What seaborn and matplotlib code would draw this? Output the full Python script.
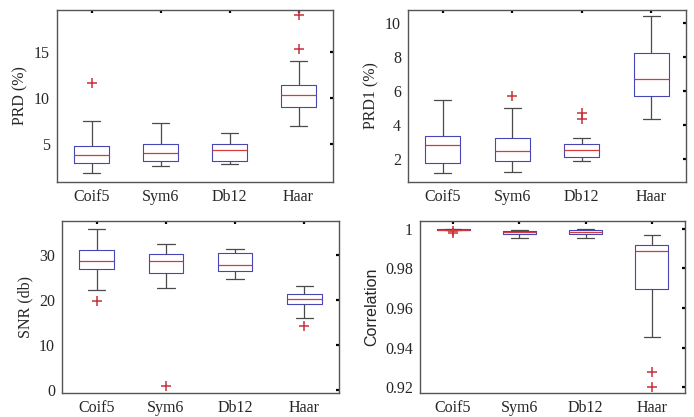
import numpy as np
import pandas as pd
import matplotlib
matplotlib.use("Agg")
import matplotlib.pyplot as plt
import seaborn as sns

wavelets = ["Coif5", "Sym6", "Db12", "Haar"]

# Five-number summaries per wavelet: lower whisker, Q1, median, Q3, upper whisker
prd_stats = [
    [1.75, 2.92, 3.80, 4.78, 7.48],
    [2.59, 3.14, 4.01, 5.00, 7.30],
    [2.81, 3.07, 4.27, 5.00, 6.17],
    [6.97, 9.05, 10.26, 11.35, 13.98],
]
prd_outliers = [[11.6], [], [], [15.3, 19.1]]

prd1_stats = [
    [1.13, 1.74, 2.80, 3.31, 5.47],
    [1.21, 1.85, 2.42, 3.21, 4.96],
    [1.85, 2.09, 2.50, 2.86, 3.21],
    [4.35, 5.67, 6.69, 8.26, 10.40],
]
prd1_outliers = [[], [5.71], [4.35, 4.68], []]

snr_stats = [
    [22.14, 26.85, 28.70, 31.05, 35.77],
    [22.73, 26.04, 28.55, 30.17, 32.38],
    [24.57, 26.34, 27.81, 30.46, 31.35],
    [16.02, 18.97, 20.15, 21.18, 23.17],
]
snr_outliers = [[19.7], [0.9], [], [14.2]]

corr_stats = [
    [0.9992, 0.9995, 0.9996, 0.9998, 0.99995],
    [0.9955, 0.9973, 0.9982, 0.9990, 0.9993],
    [0.9955, 0.9975, 0.9985, 0.9995, 0.9998],
    [0.9454, 0.9696, 0.9887, 0.9921, 0.9970],
]
corr_outliers = [[0.9988, 0.9980], [], [], [0.9200, 0.9276]]


def expand(stats, outliers):
    """Build a sample whose quartiles, whisker ends and outliers equal the summary."""
    lo, q1, med, q3, hi = stats
    low_out = sorted(v for v in outliers if v < q1)
    high_out = sorted(v for v in outliers if v > q3)
    m = max(len(low_out), len(high_out)) + 2
    n = 4 * m + 1
    vals = [None] * n
    for i, v in enumerate(low_out):
        vals[i] = v
    vals[len(low_out)] = lo
    for i in range(len(low_out) + 1, m + 1):
        vals[i] = q1
    for i in range(m + 1, 2 * m + 1):
        vals[i] = med
    for i in range(2 * m + 1, n - len(high_out) - 1):
        vals[i] = q3
    vals[n - len(high_out) - 1] = hi
    for i, v in enumerate(high_out):
        vals[n - len(high_out) + i] = v
    return vals


def frame(stats_list, outlier_list):
    rows = []
    for name, st, out in zip(wavelets, stats_list, outlier_list):
        for v in expand(st, out):
            rows.append((name, v))
    return pd.DataFrame(rows, columns=["wavelet", "value"])


BOX_BLUE = "#4646b4"
MED_RED = "#d23c3c"
WHISK = "#4a4a4a"
OUT_RED = "#c8323a"
SERIF = "Liberation Serif"
SANS = "Liberation Sans"

sns.set_style("white")
plt.rcParams["font.family"] = [SERIF, "DejaVu Sans"]

W, H = 694, 417
fig = plt.figure(figsize=(W / 100, H / 100), dpi=100)


def rect(left, right, top, bottom):
    return [left / W, 1 - bottom / H, (right - left) / W, (bottom - top) / H]


panels = [
    dict(r=rect(57, 333, 10, 182), df=frame(prd_stats, prd_outliers),
         ylabel="PRD (%)", ylim=(0.8, 19.6), yticks=[5, 10, 15],
         ylabels=["5", "10", "15"], lfont=SERIF),
    dict(r=rect(408, 686, 10, 182), df=frame(prd1_stats, prd1_outliers),
         ylabel="PRD1 (%)", ylim=(0.62, 10.77), yticks=[2, 4, 6, 8, 10],
         ylabels=["2", "4", "6", "8", "10"], lfont=SERIF),
    dict(r=rect(62, 339, 221, 393), df=frame(snr_stats, snr_outliers),
         ylabel="SNR (db)", ylim=(-0.7, 37.5), yticks=[0, 10, 20, 30],
         ylabels=["0", "10", "20", "30"], lfont=SERIF),
    dict(r=rect(420, 685, 221, 393), df=frame(corr_stats, corr_outliers),
         ylabel="Correlation", ylim=(0.917, 1.004),
         yticks=[0.92, 0.94, 0.96, 0.98, 1.0],
         ylabels=["0.92", "0.94", "0.96", "0.98", "1"], lfont=SANS),
]

for p in panels:
    ax = fig.add_axes(p["r"])
    sns.boxplot(
        data=p["df"], x="wavelet", y="value", order=wavelets, ax=ax,
        width=0.5, whis=1.5, fill=False, color=BOX_BLUE, linewidth=0.8,
        medianprops=dict(color=MED_RED, linewidth=0.9),
        whiskerprops=dict(color=WHISK, linewidth=0.9),
        capprops=dict(color=WHISK, linewidth=0.9),
        flierprops=dict(marker="+", markeredgecolor=OUT_RED, markerfacecolor=OUT_RED,
                        markersize=7, markeredgewidth=1.1),
    )
    ax.set_xlim(-0.5, 3.5)
    ax.set_ylim(*p["ylim"])
    ax.set_yticks(p["yticks"])
    ax.set_yticklabels(p["ylabels"])
    ax.set_xlabel("")
    ax.set_ylabel(p["ylabel"], fontsize=11.5, family=p["lfont"], labelpad=4)
    ax.tick_params(direction="in", length=2.5, width=1.6, color="black",
                   top=True, right=True, labelsize=11.5, pad=5)
    for s in ax.spines.values():
        s.set_visible(True)
        s.set_color("#555555")
        s.set_linewidth(1.0)

fig.savefig("out.png", dpi=100, facecolor="white")
